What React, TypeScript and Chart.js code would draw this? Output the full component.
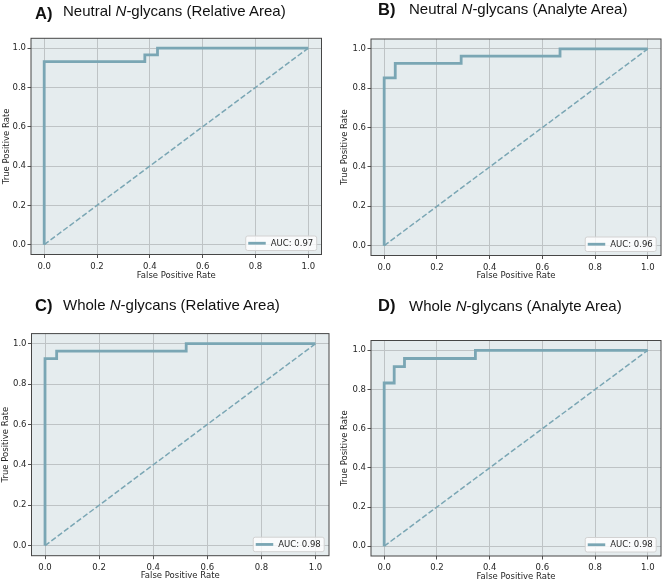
import React, { useEffect, useRef } from "react";
import { Chart, registerables } from "chart.js";

Chart.register(...registerables);

// ---------------- data ----------------
const tickValues = [0, 0.2, 0.4, 0.6, 0.8, 1.0];
const tickLabels = ["0.0", "0.2", "0.4", "0.6", "0.8", "1.0"];
const chanceFpr = [0, 1];
const chanceTpr = [0, 1];

const fprA = [0, 0, 0.381, 0.381, 0.429, 0.429, 1];
const tprA = [0, 0.931, 0.931, 0.966, 0.966, 1, 1];
const fprB = [0, 0, 0.042, 0.042, 0.292, 0.292, 0.667, 0.667, 1];
const tprB = [0, 0.852, 0.852, 0.926, 0.926, 0.963, 0.963, 1, 1];
const fprC = [0, 0, 0.043, 0.043, 0.522, 0.522, 1];
const tprC = [0, 0.926, 0.926, 0.963, 0.963, 1, 1];
const fprD = [0, 0, 0.038, 0.038, 0.077, 0.077, 0.346, 0.346, 1];
const tprD = [0, 0.833, 0.833, 0.917, 0.917, 0.958, 0.958, 1, 1];

const panelLetters = ["A)", "B)", "C)", "D)"];
const panelGroups = ["Neutral", "Neutral", "Whole", "Whole"];
const panelMeasures = ["Relative Area", "Analyte Area", "Relative Area", "Analyte Area"];
const aucLabels = ["AUC: 0.97", "AUC: 0.96", "AUC: 0.98", "AUC: 0.98"];
const xAxisTitle = "False Positive Rate";
const yAxisTitle = "True Positive Rate";

// ---------------- styling / layout ----------------
const CURVE = "rgb(122,166,180)";
const CHANCE = "rgb(122,166,180)";
const BG = "rgb(229,236,238)";
const GRID = "rgb(190,195,197)";
const FRAME = "rgb(70,70,70)";
const TICK = "rgb(80,80,80)";
const TEXT = "rgb(38,38,38)";
const MPL_FONT = "'DejaVu Sans', 'Liberation Sans', sans-serif";
const TITLE_FONT = "'Liberation Sans', Arial, sans-serif";

type Layout = {
  canvas: { left: number; top: number; w: number; h: number };
  area: { l: number; r: number; t: number; b: number };
  xTitleY: number;
  yTitleX: number;
  letter: { left: number; baseline: number };
  title: { left: number; baseline: number };
};

const layouts: Layout[] = [
  {
    canvas: { left: 0, top: 0, w: 331, h: 290 },
    area: { l: 31, r: 321.5, t: 38.3, b: 254.5 },
    xTitleY: 276,
    yTitleX: 7,
    letter: { left: 35, baseline: 19 },
    title: { left: 63, baseline: 16 },
  },
  {
    canvas: { left: 338, top: 0, w: 325, h: 290 },
    area: { l: 371, r: 661, t: 39, b: 255.5 },
    xTitleY: 276,
    yTitleX: 345,
    letter: { left: 378, baseline: 14.5 },
    title: { left: 409, baseline: 14 },
  },
  {
    canvas: { left: 0, top: 290, w: 331, h: 291 },
    area: { l: 31.5, r: 329, t: 333.6, b: 555.7 },
    xTitleY: 576,
    yTitleX: 6,
    letter: { left: 35, baseline: 310.5 },
    title: { left: 63, baseline: 310 },
  },
  {
    canvas: { left: 338, top: 290, w: 325, h: 291 },
    area: { l: 371, r: 661, t: 340.5, b: 556 },
    xTitleY: 577,
    yTitleX: 345,
    letter: { left: 378, baseline: 310.5 },
    title: { left: 409, baseline: 310.5 },
  },
];

const series = [
  { fpr: fprA, tpr: tprA },
  { fpr: fprB, tpr: tprB },
  { fpr: fprC, tpr: tprC },
  { fpr: fprD, tpr: tprD },
];

const AX_FONT_SIZE = 8.5;
const AX_LINE_H = AX_FONT_SIZE * 1.2;

const decorPlugin = {
  id: "rocDecor",
  beforeDraw(chart: any) {
    const { ctx, chartArea: a } = chart;
    ctx.save();
    ctx.fillStyle = BG;
    ctx.fillRect(a.left, a.top, a.right - a.left, a.bottom - a.top);
    ctx.restore();
  },
  afterDraw(chart: any) {
    const { ctx, chartArea: a } = chart;
    ctx.save();
    // frame
    ctx.strokeStyle = FRAME;
    ctx.lineWidth = 1;
    ctx.strokeRect(a.left, a.top, a.right - a.left, a.bottom - a.top);
    // legend
    const label = chart.data.datasets[0].label;
    ctx.font = `${AX_FONT_SIZE}px ${MPL_FONT}`;
    const tw = ctx.measureText(label).width;
    const gapL = 2.5, lineLen = 17.5, gapT = 5, padR = 3.5;
    const w = gapL + lineLen + gapT + tw + padR;
    const h = 14.5;
    const x = a.right - 4.8 - w;
    const y = a.bottom - 4 - h;
    ctx.beginPath();
    const r = 2;
    ctx.moveTo(x + r, y);
    ctx.lineTo(x + w - r, y);
    ctx.quadraticCurveTo(x + w, y, x + w, y + r);
    ctx.lineTo(x + w, y + h - r);
    ctx.quadraticCurveTo(x + w, y + h, x + w - r, y + h);
    ctx.lineTo(x + r, y + h);
    ctx.quadraticCurveTo(x, y + h, x, y + h - r);
    ctx.lineTo(x, y + r);
    ctx.quadraticCurveTo(x, y, x + r, y);
    ctx.closePath();
    ctx.fillStyle = "rgba(255,255,255,0.8)";
    ctx.fill();
    ctx.strokeStyle = "rgb(210,210,210)";
    ctx.lineWidth = 1;
    ctx.stroke();
    ctx.beginPath();
    ctx.strokeStyle = CURVE;
    ctx.lineWidth = 2.8;
    ctx.moveTo(x + gapL, y + h / 2);
    ctx.lineTo(x + gapL + lineLen, y + h / 2);
    ctx.stroke();
    ctx.fillStyle = TEXT;
    ctx.textBaseline = "middle";
    ctx.textAlign = "left";
    ctx.fillText(label, x + gapL + lineLen + gapT, y + h / 2 + 0.5);
    ctx.restore();
  },
};

function RocPanel({ idx }: { idx: number }) {
  const ref = useRef<HTMLCanvasElement | null>(null);
  const L = layouts[idx];
  const s = series[idx];

  useEffect(() => {
    if (!ref.current) return;
    const c = L.canvas;
    const padTop = L.area.t - c.top;
    const padRight = c.left + c.w - L.area.r;
    const yW = L.area.l - c.left;
    const xH = c.top + c.h - L.area.b;
    const xTitlePad = c.top + c.h - L.xTitleY - AX_LINE_H / 2;
    const yTitlePad = L.yTitleX - c.left - AX_LINE_H / 2;
    const axFont = { family: MPL_FONT, size: AX_FONT_SIZE };

    const common = {
      type: "linear" as const,
      min: -0.05,
      max: 1.05,
      afterBuildTicks: (sc: any) => {
        sc.ticks = tickValues.map((v) => ({ value: v }));
      },
      border: { display: false },
      grid: {
        color: GRID,
        lineWidth: 1,
        drawTicks: true,
        tickLength: 3.5,
        tickColor: TICK,
        tickWidth: 1,
      },
    };

    const chart = new Chart(ref.current, {
      type: "line",
      data: {
        datasets: [
          {
            label: aucLabels[idx],
            data: s.fpr.map((x, i) => ({ x, y: s.tpr[i] })),
            borderColor: CURVE,
            borderWidth: 2.8,
            pointRadius: 0,
            fill: false,
            tension: 0,
            order: 1,
          },
          {
            label: "chance",
            data: chanceFpr.map((x, i) => ({ x, y: chanceTpr[i] })),
            borderColor: CHANCE,
            borderWidth: 1.5,
            borderDash: [5.5, 2.4],
            pointRadius: 0,
            fill: false,
            tension: 0,
            order: 2,
          },
        ],
      },
      options: {
        responsive: false,
        animation: false,
        devicePixelRatio: 1,
        layout: { padding: { left: 0, top: padTop, right: padRight, bottom: 0 } },
        plugins: {
          legend: { display: false },
          tooltip: { enabled: false },
          title: { display: false },
        },
        scales: {
          x: {
            ...common,
            afterFit: (sc: any) => {
              sc.height = xH;
            },
            ticks: {
              callback: (_v: any, i: number) => tickLabels[i],
              font: axFont,
              color: TEXT,
              padding: 3.5,
              maxRotation: 0,
              autoSkip: false,
            },
            title: {
              display: true,
              text: xAxisTitle,
              font: axFont,
              color: TEXT,
              padding: { top: 0, bottom: xTitlePad },
            },
          },
          y: {
            ...common,
            afterFit: (sc: any) => {
              sc.width = yW;
            },
            ticks: {
              callback: (_v: any, i: number) => tickLabels[i],
              font: axFont,
              color: TEXT,
              padding: 1.5,
              autoSkip: false,
            },
            title: {
              display: true,
              text: yAxisTitle,
              font: axFont,
              color: TEXT,
              padding: { top: yTitlePad, bottom: 0 },
            },
          },
        },
      } as any,
      plugins: [decorPlugin],
    } as any);
    return () => chart.destroy();
  }, [idx]);

  const c = L.canvas;
  const titleSize = 15;
  const letterSize = 16.5;
  return (
    <>
      <canvas
        ref={ref}
        width={c.w}
        height={c.h}
        style={{ position: "absolute", left: c.left, top: c.top, width: c.w, height: c.h }}
      />
      <div
        style={{
          position: "absolute",
          left: L.letter.left,
          top: L.letter.baseline - 0.8465 * letterSize,
          fontFamily: TITLE_FONT,
          fontSize: letterSize,
          lineHeight: `${letterSize}px`,
          fontWeight: "bold",
          color: "#111",
          whiteSpace: "nowrap",
        }}
      >
        {panelLetters[idx]}
      </div>
      <div
        style={{
          position: "absolute",
          left: L.title.left,
          top: L.title.baseline - 0.8465 * titleSize,
          fontFamily: TITLE_FONT,
          fontSize: titleSize,
          lineHeight: `${titleSize}px`,
          color: "#111",
          whiteSpace: "nowrap",
        }}
      >
        {panelGroups[idx]} <i>N</i>-glycans ({panelMeasures[idx]})
      </div>
    </>
  );
}

export default function App() {
  return (
    <div
      style={{
        position: "absolute",
        left: 0,
        top: 0,
        width: 663,
        height: 581,
        background: "#fff",
        overflow: "hidden",
      }}
    >
      {[0, 1, 2, 3].map((i) => (
        <RocPanel key={i} idx={i} />
      ))}
    </div>
  );
}
